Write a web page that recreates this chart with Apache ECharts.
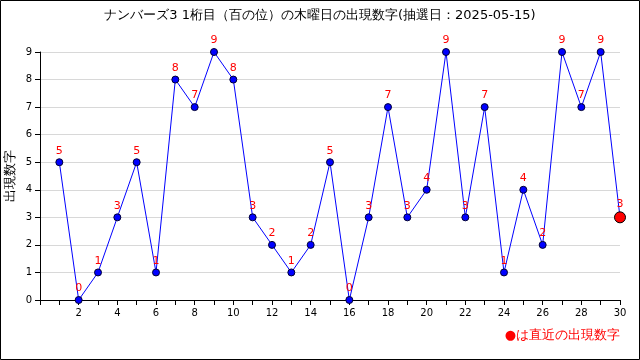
<!DOCTYPE html>
<html><head><meta charset="utf-8">
<script src="https://cdn.jsdelivr.net/npm/echarts@6/dist/echarts.min.js"></script>
<style>html,body{margin:0;padding:0;background:#fff}#c{width:640px;height:360px}</style>
</head><body><div id="c"></div>
<script>
const titleText = 'ナンバーズ3 1桁目（百の位）の木曜日の出現数字(抽選日：2025-05-15)';
const draws = [1,2,3,4,5,6,7,8,9,10,11,12,13,14,15,16,17,18,19,20,21,22,23,24,25,26,27,28,29,30];
const digits = [5,0,1,3,5,1,8,7,9,8,3,2,1,2,5,0,3,7,3,4,9,3,7,1,4,2,9,7,9,3];
const yAxisName = '出現数字';
const noteText = '●は直近の出現数字';

const font = 'DejaVu Sans, sans-serif';
const pts = draws.map((d, i) => {
  const last = i === draws.length - 1;
  return {
    value: [d, digits[i]],
    symbolSize: last ? 11 : 7,
    itemStyle: last ? {color: '#ff0000', borderColor: '#000', borderWidth: 1} : {color: '#0000ff', borderColor: '#000033', borderWidth: 1}
  };
});
const chart = echarts.init(document.getElementById('c'), null, {renderer: 'canvas'});
chart.setOption({
  animation: false,
  backgroundColor: '#fff',
  title: {text: titleText, left: 'center', top: 4, textStyle: {fontSize: 13, fontWeight: 'normal', color: '#000', fontFamily: font}},
  grid: {left: 40, right: 20, top: 52, bottom: 60, containLabel: false, outerBoundsMode: 'none'},
  xAxis: {
    type: 'value', min: 0, max: 30, interval: 2,
    axisLine: {lineStyle: {color: '#000', width: 1}},
    axisTick: {show: true, length: 5, lineStyle: {color: '#000'}},
    minorTick: {show: true, splitNumber: 2, length: 5, lineStyle: {color: '#000'}},
    splitLine: {show: false},
    axisLabel: {color: '#000', fontSize: 10, fontFamily: font, margin: 8, formatter: v => v === 0 ? '' : String(v)}
  },
  yAxis: {
    type: 'value', min: 0, max: 9, interval: 1,
    name: yAxisName, nameLocation: 'middle', nameGap: 23, nameRotate: 90, nameMoveOverlap: false,
    nameTextStyle: {fontSize: 13, color: '#000', fontFamily: font},
    axisLine: {show: true, lineStyle: {color: '#000', width: 1}},
    axisTick: {show: true, length: 5, lineStyle: {color: '#000'}},
    splitLine: {show: true, lineStyle: {color: '#d8d8d8', width: 1}},
    axisLabel: {color: '#000', fontSize: 10, fontFamily: font, margin: 8}
  },
  series: [{
    type: 'line', data: pts, symbol: 'circle',
    lineStyle: {color: '#0000ff', width: 1},
    label: {show: true, position: 'top', distance: 2, color: '#ff0000', fontSize: 11, fontFamily: font, formatter: p => String(p.value[1])}
  }],
  graphic: [
    {type: 'rect', shape: {x: 0.5, y: 0.5, width: 639, height: 359}, style: {fill: 'none', stroke: '#000', lineWidth: 1}, silent: true},
    {type: 'text', right: 20, top: 329, style: {text: noteText, fill: '#ff0000', fontSize: 13, fontFamily: font}}
  ]
});
</script></body></html>
